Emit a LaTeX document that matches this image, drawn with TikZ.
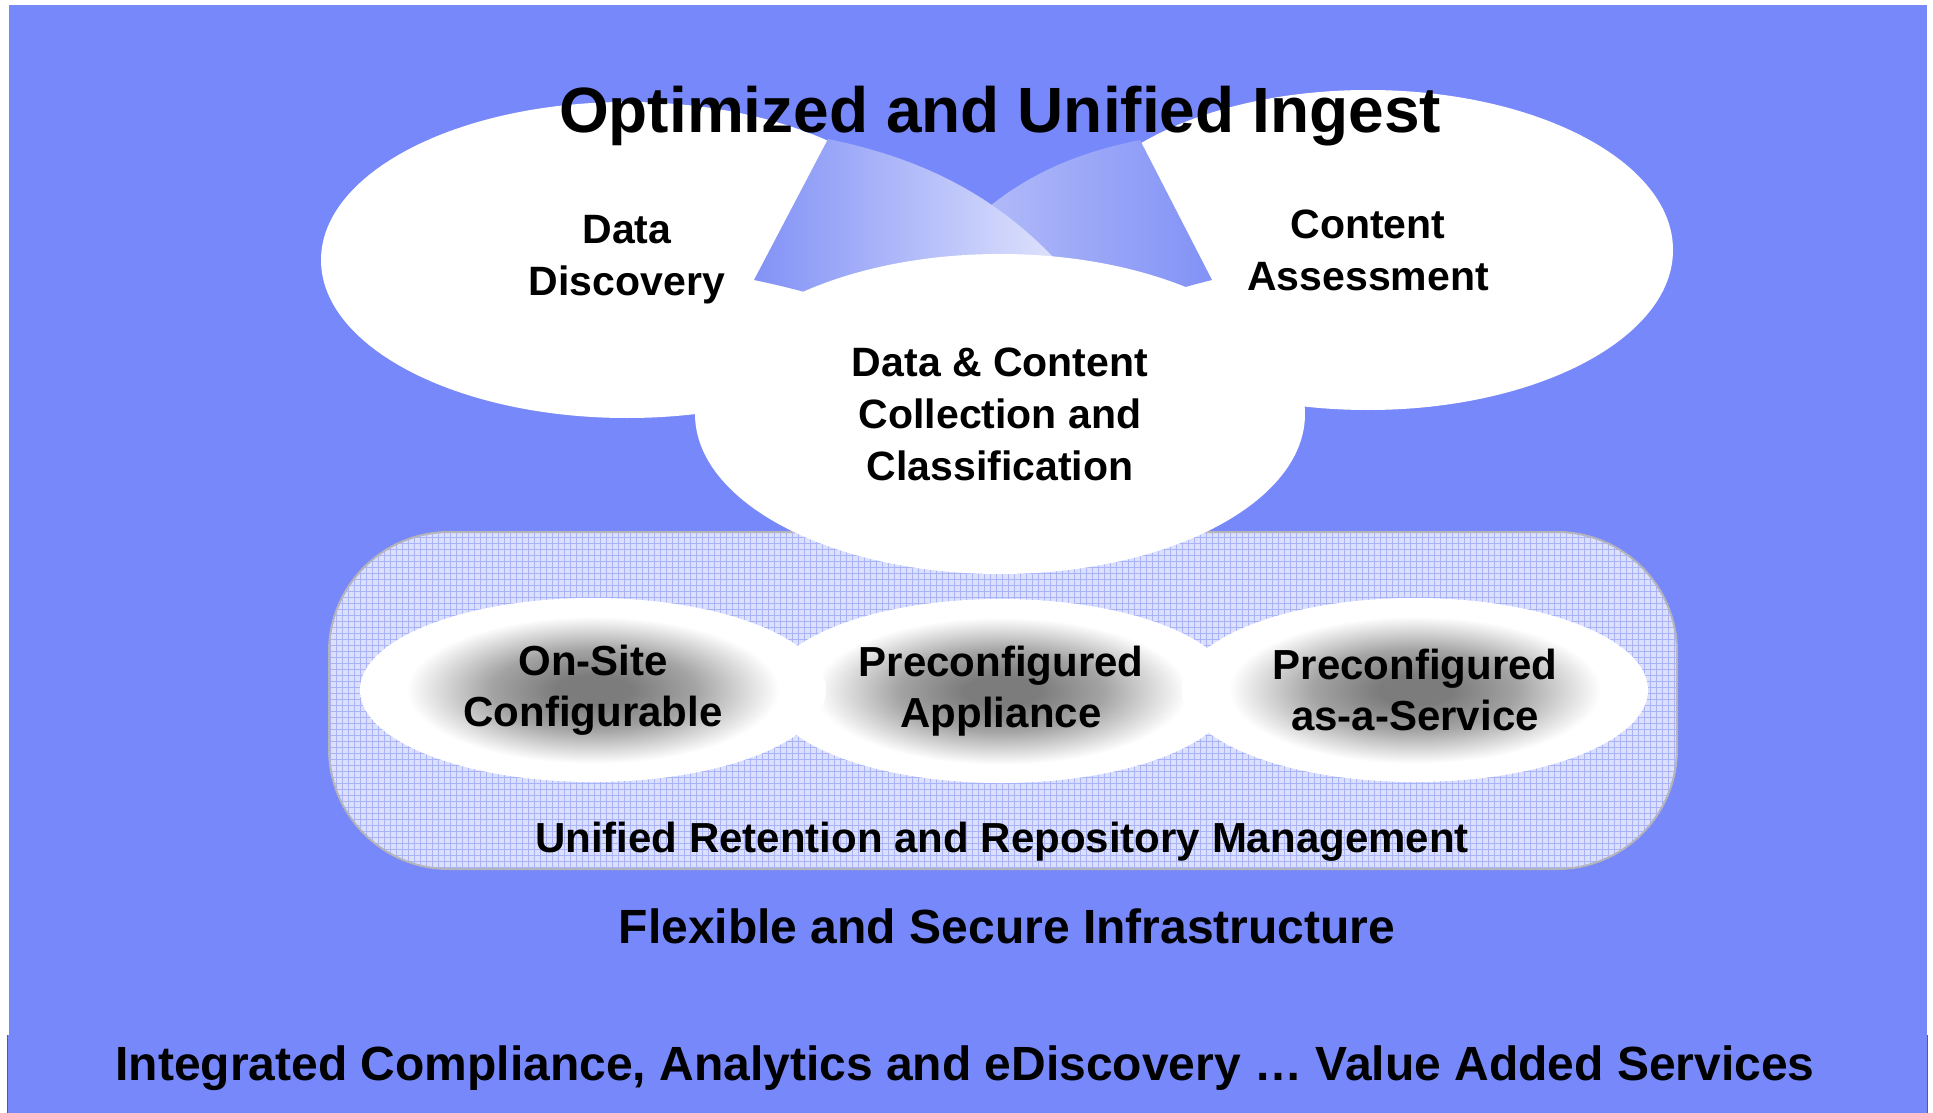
\documentclass[tikz,border=0pt]{standalone}
\usepackage{fontspec}
\setmainfont{Liberation Sans}
\usetikzlibrary{shapes.geometric,patterns}
\definecolor{bgblue}{HTML}{7788FA}
\definecolor{edgeblue}{HTML}{4A5CA8}
\definecolor{paleblue}{HTML}{DCE0FB}
\definecolor{gridblue}{HTML}{A9B3F7}
\definecolor{rectedge}{HTML}{B4B4BC}
\definecolor{ovalgray}{HTML}{7C7C7C}
\definecolor{ovalmid}{HTML}{A4A4A4}
\definecolor{banddark}{HTML}{8292F6}
\definecolor{bandlight}{HTML}{EEF0FD}
\definecolor{bandmid}{HTML}{C4CBF9}
\pgfdeclareradialshading{greyoval}{\pgfpoint{0bp}{0bp}}{color(0bp)=(ovalgray); color(4bp)=(ovalgray); color(11bp)=(ovalmid); color(20bp)=(white); color(50bp)=(white)}
\begin{document}
\begin{tikzpicture}[x=0.5pt,y=-0.5pt,
  cloud/.style={ellipse, fill=white, inner sep=0pt, align=center,
    font=\bfseries\fontsize{20.5}{26}\selectfont},
  oval/.style={ellipse, shade, shading=greyoval, inner sep=0pt,
    minimum width=233pt, minimum height=92pt, align=center,
    font=\bfseries\fontsize{21}{25.5}\selectfont},
  captxt/.style={anchor=base, inner sep=0pt,
    font=\bfseries\fontsize{24}{28}\selectfont}]
\useasboundingbox (0,0) rectangle (1933,1113);
\fill[white] (0,0) rectangle (1933,1113);
\fill[bgblue] (9,5) rectangle (1927,1035);
\fill[bgblue] (7,1035) rectangle (1928,1113);
\draw[edgeblue, line width=0.6pt] (7.6,1035) -- (7.6,1113) (1927.4,1035) -- (1927.4,1113);

% upper ellipses
\node[cloud, minimum width=306pt, minimum height=158pt] (disc) at (627,260) {Data\\Discovery};
\node[cloud, minimum width=305pt, minimum height=160pt] (assess) at (1368,250) {Content\\Assessment};

% ribbons
\shade[left color=bandmid, right color=banddark]
  (1140,140) .. controls (1040,160) and (960,205) .. (890,330)
  -- (990,400) .. controls (1060,330) and (1130,300) .. (1212,280) -- cycle;
\shade[left color=banddark, right color=bandlight]
  (828,139) .. controls (930,160) and (1030,205) .. (1110,330)
  -- (1000,400) .. controls (930,330) and (850,300) .. (754,280) -- cycle;

% repository panel
\node[rectangle, rounded corners=60pt, minimum width=674pt, minimum height=168.5pt,
  inner sep=0pt, fill=paleblue,
  postaction={pattern=grid, pattern color=gridblue},
  postaction={draw=rectedge, line width=1pt}] (repo) at (1003,700.5) {};

% centre ellipse
\node[cloud, minimum width=305pt, minimum height=160pt] (collect) at (1000,414)
  {Data \& Content\\Collection and\\Classification};

% deployment ovals
\node[oval] (appl) at (1001,691) {Preconfigured\\Appliance};
\node[oval] (onsite) at (593,690) {On-Site\\Configurable};
\node[oval] (saas) at (1415,690) {Preconfigured\\as-a-Service};

% texts
\node[captxt, font=\bfseries\fontsize{32}{38}\selectfont] (title) at (1000,133) {Optimized and Unified Ingest};
\node[captxt, font=\bfseries\fontsize{21}{25}\selectfont] (urm) at (1002,852) {Unified Retention and Repository Management};
\node[captxt] (infra) at (1007,943) {Flexible and Secure Infrastructure};
\node[captxt] (vas) at (965,1080) {Integrated Compliance, Analytics and eDiscovery … Value Added Services};
\end{tikzpicture}
\end{document}
